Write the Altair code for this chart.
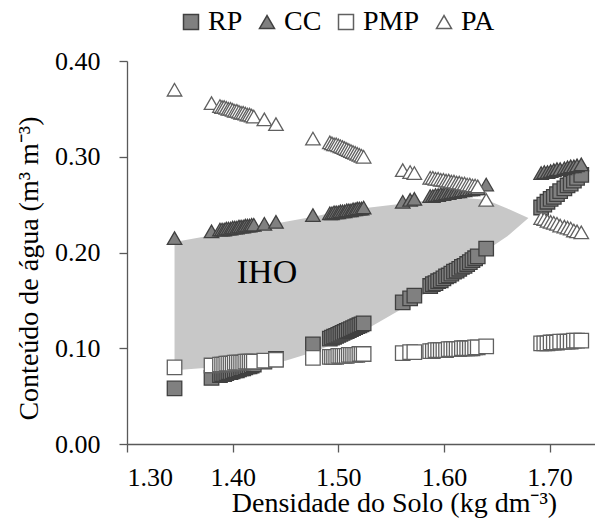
import altair as alt
import pandas as pd

# ---- data ----
densidade = [
    1.345,
    1.380,
    1.388, 1.390, 1.392, 1.394, 1.396, 1.398, 1.400, 1.402, 1.404, 1.406, 1.408, 1.410, 1.412, 1.414, 1.416, 1.418, 1.420,
    1.430, 1.441,
    1.476,
    1.492, 1.494, 1.496, 1.498, 1.500, 1.502, 1.504, 1.506, 1.508, 1.510, 1.512, 1.514, 1.516, 1.518, 1.520, 1.522, 1.524,
    1.561, 1.568, 1.572,
    1.587, 1.5895, 1.592, 1.5945, 1.597, 1.5995, 1.602, 1.6045, 1.607, 1.6095, 1.612, 1.6145, 1.617, 1.6195, 1.622,
    1.6245, 1.627, 1.6295, 1.632,
    1.640,
    1.692, 1.695, 1.698, 1.701, 1.704, 1.707, 1.710, 1.714, 1.717, 1.720, 1.723, 1.726, 1.730,
]
pa = [
    0.370,
    0.356,
    0.353, 0.352, 0.352, 0.351, 0.350, 0.350, 0.349, 0.348, 0.348, 0.347, 0.346, 0.346, 0.345, 0.344, 0.344, 0.343, 0.342,
    0.339, 0.334,
    0.319,
    0.315, 0.314, 0.313, 0.313, 0.312, 0.311, 0.310, 0.309, 0.308, 0.307, 0.306, 0.305, 0.304, 0.303, 0.302, 0.301, 0.300,
    0.286, 0.284, 0.283,
    0.278, 0.278, 0.277, 0.277, 0.276, 0.276, 0.275, 0.275, 0.274, 0.274, 0.273, 0.273, 0.272, 0.272, 0.271,
    0.271, 0.270, 0.270, 0.269,
    0.255,
    0.236, 0.235, 0.233, 0.232, 0.231, 0.230, 0.228, 0.227, 0.226, 0.225, 0.223, 0.222, 0.221,
]
cc = [
    0.215,
    0.222,
    0.224, 0.224, 0.224, 0.225, 0.225, 0.225, 0.226, 0.226, 0.226, 0.227, 0.227, 0.227, 0.228, 0.228, 0.228, 0.229, 0.229,
    0.230, 0.232,
    0.239,
    0.241, 0.241, 0.242, 0.242, 0.242, 0.243, 0.243, 0.243, 0.244, 0.244, 0.244, 0.245, 0.245, 0.246, 0.246, 0.246, 0.247,
    0.253, 0.255, 0.256,
    0.259, 0.259, 0.260, 0.260, 0.261, 0.261, 0.262, 0.262, 0.263, 0.263, 0.264, 0.264, 0.265, 0.265, 0.266,
    0.266, 0.266, 0.267, 0.267,
    0.271,
    0.283, 0.284, 0.284, 0.285, 0.286, 0.287, 0.287, 0.288, 0.289, 0.290, 0.290, 0.291, 0.292,
]
rp = [
    0.058,
    0.069,
    0.072, 0.073, 0.073, 0.074, 0.075, 0.075, 0.076, 0.077, 0.077, 0.078, 0.079, 0.079, 0.080, 0.081, 0.081, 0.082, 0.083,
    0.086, 0.089,
    0.104,
    0.110, 0.111, 0.112, 0.113, 0.114, 0.115, 0.116, 0.117, 0.118, 0.119, 0.120, 0.121, 0.122, 0.123, 0.124, 0.125, 0.126,
    0.148, 0.152, 0.155,
    0.165, 0.167, 0.168, 0.170, 0.171, 0.173, 0.175, 0.176, 0.178, 0.180, 0.181, 0.183, 0.185, 0.186, 0.188,
    0.190, 0.192, 0.194, 0.196,
    0.204,
    0.247, 0.250, 0.253, 0.256, 0.258, 0.261, 0.264, 0.267, 0.270, 0.272, 0.275, 0.278, 0.281,
]
pmp = [
    0.080,
    0.082,
    0.083, 0.083, 0.083, 0.084, 0.084, 0.084, 0.084, 0.085, 0.085, 0.085, 0.085, 0.085, 0.086, 0.086, 0.086, 0.086, 0.086,
    0.087, 0.088,
    0.090,
    0.091, 0.091, 0.091, 0.091, 0.092, 0.092, 0.092, 0.092, 0.092, 0.093, 0.093, 0.093, 0.093, 0.093, 0.094, 0.094, 0.094,
    0.095, 0.096, 0.096,
    0.097, 0.097, 0.098, 0.098, 0.098, 0.098, 0.098, 0.099, 0.099, 0.099, 0.099, 0.099, 0.100, 0.100, 0.100,
    0.100, 0.100, 0.101, 0.101,
    0.102,
    0.105, 0.105, 0.105, 0.106, 0.106, 0.106, 0.107, 0.107, 0.107, 0.107, 0.108, 0.108, 0.108,
]

# IHO region (lower = max(RP, PMP), upper = min(CC, PA))
iho_x = [1.345, 1.37, 1.40, 1.43, 1.45, 1.48, 1.50, 1.53, 1.56, 1.59, 1.62, 1.64, 1.66, 1.68]
iho_lower = [0.077, 0.079, 0.081, 0.084, 0.087, 0.097, 0.107, 0.122, 0.141, 0.163, 0.187, 0.202, 0.217, 0.236]
iho_upper = [0.211, 0.216, 0.222, 0.228, 0.232, 0.238, 0.243, 0.247, 0.251, 0.255, 0.257, 0.255, 0.246, 0.236]

label_text = ["IHO"]
label_x = [1.4325]
label_y = [0.179]

series_names = ["RP", "CC", "PMP", "PA"]
series_values = [rp, cc, pmp, pa]
x_ticks = [1.30, 1.40, 1.50, 1.60, 1.70]
y_ticks = [0.00, 0.10, 0.20, 0.30, 0.40]

# ---- tables ----
rows = []
for name, vals in zip(series_names, series_values):
    for d, v in zip(densidade, vals):
        rows.append({"d": d, "v": v, "serie": name})
pts = pd.DataFrame(rows)
area_df = pd.DataFrame({"d": iho_x, "lo": iho_lower, "hi": iho_upper})
lab_df = pd.DataFrame({"d": label_x, "v": label_y, "t": label_text})

FONT = "Liberation Serif"
AX = "#595959"
xscale = alt.Scale(domain=[1.30, 1.743], nice=False, zero=False)
yscale = alt.Scale(domain=[0.0, 0.40], nice=False)

common_axis = dict(
    grid=False, tickSize=8, format=".2f",
    labelFont=FONT, labelFontSize=26, labelColor="#000000",
    titleFont=FONT, titleFontSize=28, titleColor="#000000", titleFontWeight="normal",
    domainColor=AX, tickColor=AX, domainWidth=1.3, tickWidth=1.3,
    titleBaseline="alphabetic", titleAlign="center",
)
xaxis = alt.Axis(values=x_ticks, title="Densidade do Solo (kg dm\u207b\u00b3)",
                 labelPadding=12, titleX=267, titleY=67, **common_axis)
yaxis = alt.Axis(values=y_ticks, title="Conteúdo de água (m\u00b3 m\u207b\u00b3)",
                 labelPadding=19, titleX=-90, titleY=207, **common_axis)

legend = alt.Legend(
    title=None, orient="none", legendX=50, legendY=-53, direction="horizontal",
    labelFont=FONT, labelFontSize=28, labelColor="#000000", symbolSize=225,
    symbolStrokeWidth=1.5, labelOffset=3, columnPadding=10, labelLimit=200,
)

area = alt.Chart(area_df).mark_area(color="#c8c8c8", opacity=1).encode(
    x=alt.X("d:Q", scale=xscale, axis=xaxis),
    y=alt.Y("lo:Q", scale=yscale, axis=yaxis),
    y2="hi:Q",
)

points = alt.Chart(pts).mark_point(filled=True, size=210, strokeWidth=1.3, opacity=1).encode(
    x=alt.X("d:Q", scale=xscale),
    y=alt.Y("v:Q", scale=yscale),
    shape=alt.Shape("serie:N", scale=alt.Scale(domain=series_names,
                    range=["square", "triangle-up", "square", "triangle-up"]), legend=legend),
    fill=alt.Fill("serie:N", scale=alt.Scale(domain=series_names,
                  range=["#808080", "#808080", "#ffffff", "#ffffff"]), legend=legend),
    stroke=alt.Stroke("serie:N", scale=alt.Scale(domain=series_names,
                      range=["#404040", "#404040", "#606060", "#606060"]), legend=legend),
)

text = alt.Chart(lab_df).mark_text(font=FONT, fontSize=34, color="#000000").encode(
    x=alt.X("d:Q", scale=xscale),
    y=alt.Y("v:Q", scale=yscale),
    text="t:N",
)

chart = alt.layer(area, points, text).properties(
    width=468, height=383,
    autosize=alt.AutoSizeParams(type="none"),
    padding={"left": 119, "top": 53, "right": 0, "bottom": 74},
).configure_view(stroke=None)

chart.save("out.html", embed_options={"renderer": "svg", "actions": False})
